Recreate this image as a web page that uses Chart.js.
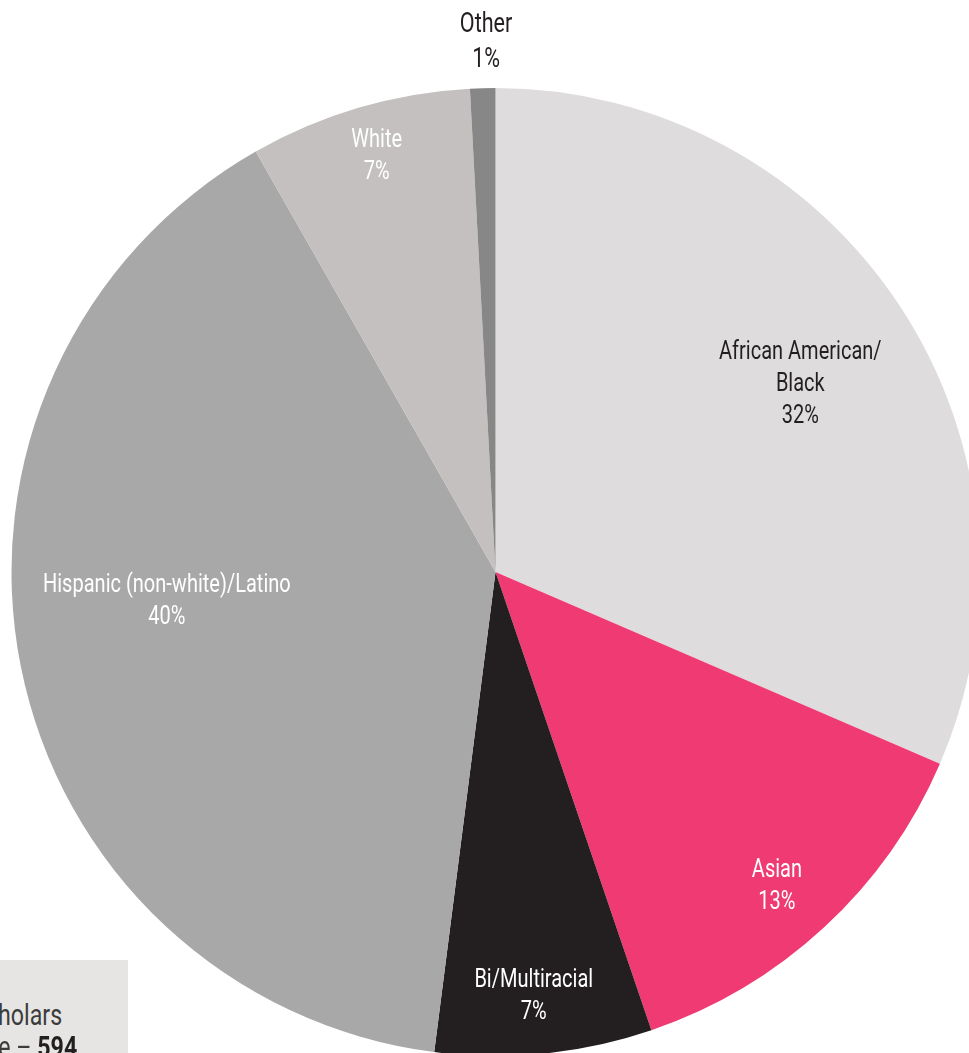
<!DOCTYPE html>
<html>
<head>
<meta charset="utf-8">
<script src="https://cdn.jsdelivr.net/npm/chart.js@4"></script>
<style>
  html, body { margin: 0; padding: 0; background: #fff; overflow: hidden; width: 969px; height: 1053px; }
  #wrap { position: absolute; left: 0; top: 0; width: 969px; height: 1053px; }
  #note {
    position: absolute; left: 0; top: 960px; width: 128px; height: 100px;
    background: #e6e5e4; overflow: visible;
    font-family: Roboto, 'DejaVu Sans Condensed', sans-serif;
    font-size: 29px; color: #3c3c3c;
  }
  #note span { position: absolute; white-space: nowrap; line-height: 29px; transform: scaleX(0.8); transform-origin: right center; }
  #note b { color: #231f20; }
</style>
</head>
<body>
<div id="wrap"><canvas id="pie" width="969" height="1053"></canvas></div>
<div id="note">
  <span style="right:66px; top:41px;">Number of Scholars</span>
  <span style="right:51px; top:73px;">Sample size – <b>594</b></span>
</div>
<script>
// slices clockwise from 12 o'clock
const categories = ['African American/\nBlack', 'Asian', 'Bi/Multiracial', 'Hispanic (non-white)/Latino', 'White', 'Other'];
const counts = [187, 79, 43, 236, 44, 5];
const pctLabels = ['32%', '13%', '7%', '40%', '7%', '1%'];

const sliceColors = ['#dedcdd', '#ef3a74', '#231f20', '#a8a8a8', '#c3c0bf', '#878787'];
const textColors = ['#231f20', '#ffffff', '#ffffff', '#ffffff', '#ffffff', '#231f20'];
// label radius (px from centre) and angle tweak (deg) per slice
const labelPlace = [
  { r: 358, da: 1.7 },
  { r: 422, da: 0.9 },
  { r: 426, da: 0.6 },
  { r: 330, da: 6.0 },
  { r: 432, da: 0.4 },
  { r: 530, da: 0.5 }
];

const FONT = "Roboto, 'DejaVu Sans Condensed', sans-serif";
const SQUEEZE = 0.77; // fake a condensed face

const sliceLabels = {
  id: 'sliceLabels',
  afterDatasetsDraw(chart) {
    const ctx = chart.ctx;
    const meta = chart.getDatasetMeta(0);
    meta.data.forEach((arc, i) => {
      const p = labelPlace[i];
      const mid = (arc.startAngle + arc.endAngle) / 2 + p.da * Math.PI / 180;
      const cx = arc.x + p.r * Math.cos(mid);
      const cy = arc.y + p.r * Math.sin(mid);
      const lines = categories[i].split('\n').concat([pctLabels[i]]);
      const size = i === 5 ? 28 : 26;
      const lh = i === 5 ? 35 : 32;
      ctx.save();
      ctx.font = size + 'px ' + FONT;
      ctx.fillStyle = textColors[i];
      ctx.textAlign = 'center';
      ctx.textBaseline = 'middle';
      lines.forEach((t, k) => {
        ctx.save();
        ctx.translate(cx, cy - (lines.length - 1) * lh / 2 + k * lh);
        ctx.scale(SQUEEZE, 1);
        ctx.fillText(t, 0, 0);
        ctx.restore();
      });
      ctx.restore();
    });
  }
};

new Chart(document.getElementById('pie').getContext('2d'), {
  type: 'pie',
  data: {
    labels: categories,
    datasets: [{
      data: counts,
      backgroundColor: sliceColors,
      borderWidth: 0,
      radius: 484,
      clip: false
    }]
  },
  options: {
    responsive: false,
    animation: false,
    events: [],
    layout: { padding: { left: 22, top: 91, right: 0, bottom: 0 } },
    plugins: { legend: { display: false }, tooltip: { enabled: false } }
  },
  plugins: [sliceLabels]
});
</script>
</body>
</html>
